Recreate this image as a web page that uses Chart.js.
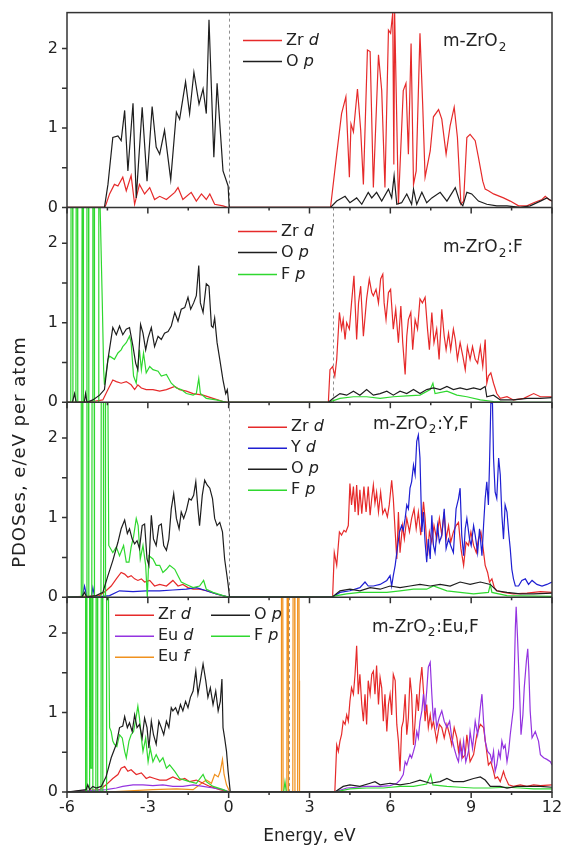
<!DOCTYPE html>
<html>
<head>
<meta charset="utf-8">
<title>PDOS of m-ZrO2 based systems</title>
<script src="https://cdn.jsdelivr.net/npm/chart.js@4.4.0/dist/chart.umd.min.js"></script>
<style>
  html, body { margin: 0; padding: 0; background: #fff; }
</style>
</head>
<body>
<canvas id="pdos" width="563" height="852"></canvas>
<script>
// energy (eV), PDOS (e/eV per atom) pairs
// panel 1: m-ZrO2
const p1Zrd = [[-6,0],[-4.6,0],[-4.55,0.04],[-4.42,0.17],[-4.24,0.29],[-4.11,0.27],[-3.93,0.38],[-3.80,0.21],[-3.62,0.40],[-3.49,0.04],[-3.31,0.29],[-3.12,0.17],[-2.93,0.25],[-2.75,0.10],[-2.56,0.14],[-2.31,0.10],[-2.00,0.19],[-1.88,0.25],[-1.70,0.10],[-1.39,0.19],[-1.20,0.08],[-1.01,0.17],[-0.83,0.10],[-0.70,0.17],[-0.52,0.04],[-0.21,0.02],[-0.02,0],
  [3.78,0],[4.01,0.67],[4.19,1.18],[4.35,1.39],[4.48,0.38],[4.54,1.05],[4.63,0.95],[4.78,1.49],[4.90,0.97],[5.00,0.29],[5.15,1.98],[5.25,1.96],[5.37,0.25],[5.56,1.92],[5.68,1.47],[5.80,0.25],[5.93,2.23],[6.01,2.19],[6.09,2.45],[6.13,0.54],[6.16,2.45],[6.30,0.04],[6.48,1.47],[6.58,1.56],[6.67,0.67],[6.77,2.06],[6.86,0.29],[6.96,0.46],[7.10,2.19],[7.20,1.30],[7.29,0.38],[7.48,0.71],[7.60,1.14],[7.79,1.23],[7.91,1.11],[8.07,0.67],[8.22,1.03],[8.37,1.26],[8.49,0.88],[8.62,0.04],[8.72,0.08],[8.84,0.88],[8.96,0.92],[9.15,0.84],[9.27,0.63],[9.43,0.33],[9.52,0.23],[9.64,0.21],[9.83,0.17],[10.20,0.12],[10.45,0.08],[10.76,0.02],[11.07,0.02],[11.32,0.06],[11.63,0.10],[11.75,0.14],[11.88,0.10],[12,0.08]];
const p1Op = [[-6,0],[-4.61,0],[-4.48,0.29],[-4.30,0.88],[-4.11,0.90],[-3.99,0.84],[-3.86,1.22],[-3.74,0.46],[-3.55,1.31],[-3.43,0.12],[-3.21,1.26],[-3.03,0.33],[-2.84,1.27],[-2.69,0.76],[-2.56,0.67],[-2.38,0.97],[-2.15,0.35],[-1.94,1.20],[-1.82,1.11],[-1.60,1.58],[-1.45,1.18],[-1.29,1.70],[-1.10,1.30],[-0.95,1.49],[-0.83,1.18],[-0.73,2.36],[-0.55,0.63],[-0.43,1.56],[-0.21,0.46],[-0.02,0.27],[0.02,0],
  [3.78,0],[4.01,0.08],[4.32,0.14],[4.50,0.06],[4.75,0.12],[4.94,0.04],[5.18,0.19],[5.31,0.12],[5.49,0.19],[5.68,0.08],[5.93,0.23],[6.05,0.12],[6.14,0.40],[6.24,0.04],[6.42,0.06],[6.61,0.17],[6.79,0.04],[6.86,0.23],[6.98,0.04],[7.17,0.19],[7.35,0.06],[7.54,0.12],[7.85,0.19],[8.10,0.08],[8.41,0.25],[8.59,0.06],[8.69,0.02],[8.84,0.19],[9.02,0.17],[9.27,0.08],[9.58,0.04],[9.95,0.02],[10.33,0.02],[10.82,0],[11.19,0.02],[11.57,0.08],[11.81,0.12],[12,0.08]];

// panel 2: m-ZrO2:F
const p2Zrd = [[-6,0],[-5.04,0.01],[-4.67,0.03],[-4.48,0.16],[-4.30,0.28],[-4.17,0.26],[-3.99,0.24],[-3.80,0.26],[-3.62,0.22],[-3.49,0.16],[-3.37,0.22],[-3.24,0.18],[-3.06,0.16],[-2.81,0.16],[-2.56,0.14],[-2.31,0.16],[-2.00,0.20],[-1.82,0.16],[-1.57,0.14],[-1.32,0.11],[-0.95,0.09],[-0.58,0.05],[-0.21,0.01],[-0.02,0],
  [3.70,0],[3.76,0.41],[3.86,0.45],[3.94,0.33],[4.01,0.54],[4.11,1.13],[4.19,0.92],[4.25,1.04],[4.32,0.79],[4.38,1.00],[4.48,0.92],[4.56,1.25],[4.65,1.59],[4.75,0.79],[4.82,1.25],[4.90,1.46],[5.00,0.83],[5.12,1.30],[5.22,1.55],[5.31,1.38],[5.37,1.34],[5.47,1.42],[5.56,1.25],[5.64,1.55],[5.72,1.61],[5.77,1.25],[5.84,1.04],[5.93,1.38],[6.01,1.42],[6.11,0.92],[6.20,1.17],[6.30,0.75],[6.39,1.21],[6.46,0.75],[6.55,0.35],[6.61,0.83],[6.67,1.04],[6.76,1.13],[6.83,0.66],[6.92,1.04],[7.01,0.92],[7.10,1.30],[7.19,1.25],[7.29,1.32],[7.38,0.92],[7.45,0.66],[7.54,1.13],[7.62,0.75],[7.72,0.92],[7.81,0.54],[7.91,1.17],[8.00,0.83],[8.07,0.66],[8.16,0.87],[8.24,0.66],[8.34,0.92],[8.41,0.79],[8.49,0.54],[8.59,0.75],[8.69,0.58],[8.78,0.41],[8.86,0.70],[8.96,0.54],[9.05,0.70],[9.15,0.54],[9.24,0.49],[9.34,0.70],[9.43,0.45],[9.52,0.79],[9.58,0.24],[9.64,0.33],[9.73,0.37],[9.83,0.24],[9.95,0.11],[10.08,0.05],[10.33,0.07],[10.57,0.03],[10.95,0.05],[11.32,0.11],[11.57,0.07],[12,0.07]];
const p2Op = [[-6,0],[-5.80,0],[-5.72,0.11],[-5.66,0],[-5.36,0],[-5.31,0.11],[-5.26,0],[-5.04,0.03],[-4.79,0.09],[-4.61,0.16],[-4.48,0.54],[-4.30,0.94],[-4.17,0.85],[-4.05,0.96],[-3.93,0.85],[-3.80,0.92],[-3.68,0.94],[-3.55,0.70],[-3.45,0.49],[-3.37,0.41],[-3.27,0.98],[-3.18,0.87],[-3.08,0.66],[-2.99,0.81],[-2.87,0.94],[-2.75,0.70],[-2.62,0.83],[-2.50,0.79],[-2.38,0.87],[-2.25,0.89],[-2.13,0.96],[-2.00,1.13],[-1.88,1.02],[-1.76,1.17],[-1.63,1.19],[-1.51,1.32],[-1.41,1.17],[-1.30,1.25],[-1.20,1.34],[-1.11,1.72],[-1.05,1.25],[-0.95,1.13],[-0.83,1.49],[-0.73,1.46],[-0.64,0.96],[-0.58,0.94],[-0.52,1.06],[-0.43,0.75],[-0.33,0.54],[-0.21,0.28],[-0.11,0.11],[-0.05,0.16],[0,0],
  [3.70,0],[3.88,0.05],[4.13,0.11],[4.38,0.09],[4.63,0.14],[4.87,0.09],[5.12,0.16],[5.37,0.09],[5.62,0.11],[5.87,0.14],[6.11,0.09],[6.36,0.14],[6.61,0.11],[6.86,0.16],[7.10,0.11],[7.35,0.16],[7.60,0.18],[7.85,0.16],[8.10,0.20],[8.34,0.16],[8.59,0.18],[8.84,0.16],[9.09,0.18],[9.34,0.16],[9.52,0.20],[9.58,0.07],[9.83,0.09],[10.08,0.03],[10.57,0.03],[11.07,0.05],[11.57,0.05],[12,0.06]];
const p2Fp = [[-6,0],[-5.86,0],[-5.85,2.45],[-5.79,2.45],[-5.78,0],[-5.67,0],[-5.66,2.45],[-5.61,2.45],[-5.60,0],[-5.45,0],[-5.44,2.45],[-5.40,2.45],[-5.39,0],[-5.27,0],[-5.26,2.45],[-5.20,2.45],[-5.19,0],[-5.05,0],[-5.04,2.45],[-4.99,2.45],[-4.98,0],[-4.83,0],[-4.82,2.45],[-4.77,2.45],[-4.69,1.25],[-4.64,0.41],[-4.61,0.22],[-4.48,0.54],[-4.42,0.58],[-4.24,0.54],[-4.11,0.62],[-3.99,0.66],[-3.93,0.70],[-3.80,0.75],[-3.68,0.83],[-3.62,0.75],[-3.53,0.33],[-3.43,0.24],[-3.31,0.66],[-3.24,0.41],[-3.16,0.62],[-3.06,0.37],[-2.93,0.45],[-2.81,0.41],[-2.62,0.39],[-2.50,0.33],[-2.31,0.35],[-2.13,0.24],[-1.94,0.18],[-1.76,0.16],[-1.57,0.11],[-1.32,0.09],[-1.20,0.11],[-1.11,0.30],[-1.05,0.11],[-0.83,0.05],[-0.46,0.03],[-0.08,0],
  [3.70,0],[4.13,0.05],[4.63,0.07],[5.12,0.07],[5.62,0.05],[6.11,0.07],[6.61,0.08],[7.10,0.09],[7.48,0.16],[7.58,0.24],[7.66,0.11],[8.10,0.14],[8.47,0.09],[8.84,0.07],[9.34,0.03],[9.83,0.01],[10.33,0],[12,0]];

// panel 3: m-ZrO2:Y,F
const p3Zrd = [[-6,0],[-4.79,0.02],[-4.55,0.08],[-4.36,0.14],[-4.17,0.23],[-3.99,0.31],[-3.86,0.29],[-3.74,0.25],[-3.62,0.27],[-3.49,0.23],[-3.37,0.21],[-3.24,0.23],[-3.12,0.19],[-2.93,0.21],[-2.75,0.14],[-2.56,0.16],[-2.31,0.14],[-2.07,0.21],[-1.88,0.14],[-1.70,0.16],[-1.51,0.12],[-1.32,0.10],[-1.08,0.10],[-0.83,0.08],[-0.46,0.04],[-0.02,0],
  [3.84,0],[3.86,0.02],[3.92,0.56],[4.01,0.40],[4.11,0.82],[4.19,0.78],[4.28,0.84],[4.35,0.82],[4.44,0.90],[4.50,1.43],[4.56,1.16],[4.63,1.39],[4.69,1.07],[4.75,1.41],[4.81,1.03],[4.87,1.35],[4.94,1.05],[5.02,1.39],[5.10,1.07],[5.18,1.39],[5.25,1.03],[5.31,1.24],[5.37,1.41],[5.43,1.18],[5.49,1.32],[5.56,1.07],[5.64,1.32],[5.72,1.05],[5.80,1.11],[5.89,1.01],[5.96,1.16],[6.05,1.47],[6.11,1.24],[6.18,0.82],[6.24,0.48],[6.30,1.07],[6.36,0.56],[6.45,0.90],[6.52,0.73],[6.61,0.99],[6.71,0.82],[6.79,0.99],[6.88,1.11],[6.96,0.86],[7.04,1.07],[7.13,0.78],[7.23,1.20],[7.29,0.99],[7.38,0.52],[7.45,0.82],[7.54,0.69],[7.62,0.90],[7.72,0.73],[7.82,0.99],[7.91,0.78],[8.00,1.07],[8.07,0.73],[8.16,0.90],[8.24,0.69],[8.34,0.82],[8.44,0.90],[8.53,0.94],[8.62,0.61],[8.72,0.40],[8.81,0.69],[8.90,0.65],[8.99,0.82],[9.09,0.65],[9.19,0.56],[9.27,0.73],[9.36,0.82],[9.43,0.65],[9.52,0.40],[9.61,0.31],[9.68,0.19],[9.77,0.23],[9.86,0.12],[9.95,0.08],[10.20,0.06],[10.57,0.04],[11.07,0.05],[11.57,0.07],[12,0.06]];
const p3Yd = [[-6,0],[-5.44,0],[-5.35,0.14],[-5.26,0],[-5.10,0],[-5.04,0.12],[-4.97,0],[-4.42,0.02],[-4.05,0.08],[-3.55,0.07],[-3.06,0.08],[-2.56,0.08],[-2.07,0.09],[-1.57,0.10],[-1.20,0.12],[-0.83,0.08],[-0.46,0.04],[0,0],
  [3.84,0],[4.13,0.06],[4.50,0.08],[4.87,0.12],[5.06,0.19],[5.18,0.14],[5.37,0.14],[5.62,0.16],[5.87,0.21],[5.99,0.27],[6.05,0.14],[6.11,0.27],[6.18,0.40],[6.24,0.56],[6.34,0.82],[6.42,0.90],[6.48,0.84],[6.55,0.99],[6.61,1.16],[6.67,1.11],[6.73,1.37],[6.79,1.45],[6.86,1.66],[6.92,1.54],[6.98,1.96],[7.04,2.04],[7.10,1.75],[7.17,0.82],[7.23,1.07],[7.29,0.69],[7.35,0.44],[7.41,0.73],[7.48,0.48],[7.54,1.03],[7.60,0.65],[7.66,0.56],[7.75,0.90],[7.82,0.69],[7.91,0.78],[8.00,1.11],[8.07,0.61],[8.16,0.73],[8.24,0.65],[8.34,0.56],[8.44,1.11],[8.53,1.24],[8.59,1.37],[8.65,0.78],[8.72,0.52],[8.78,0.86],[8.84,0.99],[8.94,0.73],[9.00,0.65],[9.09,0.90],[9.15,0.78],[9.24,0.56],[9.31,0.86],[9.40,0.52],[9.46,0.90],[9.52,1.24],[9.58,1.45],[9.64,1.16],[9.68,1.66],[9.73,2.44],[9.79,2.45],[9.83,1.75],[9.89,1.32],[9.95,1.24],[10.02,1.75],[10.08,1.54],[10.14,1.03],[10.20,0.73],[10.26,1.16],[10.33,1.07],[10.39,0.82],[10.45,0.61],[10.51,0.35],[10.57,0.23],[10.64,0.14],[10.76,0.14],[10.88,0.21],[11.01,0.23],[11.13,0.16],[11.26,0.21],[11.44,0.16],[11.63,0.14],[11.81,0.16],[12,0.19]];
const p3Op = [[-6,0],[-5.45,0],[-5.35,0.06],[-5.27,0],[-4.92,0.02],[-4.67,0.06],[-4.48,0.27],[-4.30,0.46],[-4.11,0.69],[-3.99,0.86],[-3.86,0.97],[-3.76,0.80],[-3.68,0.86],[-3.58,0.73],[-3.49,0.67],[-3.40,0.71],[-3.31,0.61],[-3.21,0.90],[-3.12,0.92],[-3.03,0.48],[-2.96,0.40],[-2.87,1.03],[-2.79,0.73],[-2.69,0.65],[-2.59,0.90],[-2.50,0.92],[-2.41,0.65],[-2.31,0.59],[-2.22,0.73],[-2.13,1.11],[-2.04,1.30],[-1.94,0.99],[-1.84,0.86],[-1.76,1.07],[-1.67,0.99],[-1.57,1.09],[-1.47,1.24],[-1.39,1.22],[-1.30,1.28],[-1.22,1.45],[-1.14,1.11],[-1.08,0.90],[-0.98,1.28],[-0.89,1.47],[-0.80,1.41],[-0.70,1.37],[-0.60,1.24],[-0.52,0.99],[-0.43,0.90],[-0.33,0.94],[-0.23,0.82],[-0.15,0.48],[-0.08,0.31],[-0.02,0.16],[0.03,0],
  [3.84,0],[4.13,0.08],[4.50,0.10],[4.87,0.08],[5.25,0.12],[5.62,0.10],[5.99,0.14],[6.36,0.12],[6.73,0.14],[7.10,0.16],[7.48,0.14],[7.85,0.16],[8.22,0.14],[8.59,0.19],[8.96,0.16],[9.34,0.19],[9.71,0.16],[9.95,0.08],[10.33,0.06],[10.82,0.04],[11.32,0.04],[12,0.05]];
const p3Fp = [[-6,0],[-5.48,0],[-5.47,2.45],[-5.42,2.45],[-5.41,0],[-5.27,0],[-5.26,2.45],[-5.20,2.45],[-5.19,0],[-5.08,0],[-5.07,2.45],[-4.99,2.45],[-4.98,0],[-4.74,0],[-4.73,2.45],[-4.65,2.45],[-4.64,0],[-4.58,0],[-4.57,2.45],[-4.48,2.45],[-4.45,0.65],[-4.30,0.56],[-4.17,0.63],[-4.05,0.52],[-3.90,0.65],[-3.80,0.44],[-3.70,0.44],[-3.62,0.63],[-3.53,0.76],[-3.43,0.99],[-3.36,0.90],[-3.28,0.48],[-3.18,0.65],[-3.08,0.40],[-3.02,0],[-2.96,0.52],[-2.81,0.48],[-2.69,0.40],[-2.56,0.40],[-2.44,0.31],[-2.31,0.35],[-2.19,0.40],[-2.00,0.35],[-1.88,0.27],[-1.76,0.19],[-1.57,0.16],[-1.32,0.12],[-1.08,0.14],[-0.93,0.21],[-0.83,0.10],[-0.58,0.06],[-0.21,0.02],[0,0],
  [3.84,0],[3.86,0.01],[4.38,0.04],[4.87,0.06],[5.37,0.06],[5.87,0.06],[6.36,0.08],[6.86,0.10],[7.35,0.10],[7.60,0.14],[8.10,0.08],[8.59,0.06],[9.09,0.04],[9.64,0.06],[9.71,0.16],[9.77,0.06],[10.33,0.02],[12,0.01]];

// panel 4: m-ZrO2:Eu,F
const p4Zrd = [[-6,0],[-4.79,0.03],[-4.55,0.09],[-4.30,0.17],[-4.11,0.22],[-3.99,0.30],[-3.86,0.32],[-3.74,0.26],[-3.62,0.28],[-3.43,0.22],[-3.24,0.24],[-3.06,0.17],[-2.93,0.19],[-2.75,0.17],[-2.56,0.15],[-2.31,0.15],[-2.07,0.19],[-1.82,0.15],[-1.63,0.17],[-1.45,0.13],[-1.20,0.15],[-0.95,0.11],[-0.70,0.07],[-0.33,0.03],[0.04,0],
  [3.94,0],[4.01,0.59],[4.07,0.51],[4.13,0.64],[4.19,0.72],[4.25,0.89],[4.32,0.85],[4.38,0.97],[4.44,0.89],[4.50,1.14],[4.56,1.31],[4.63,1.23],[4.69,1.48],[4.75,1.84],[4.81,1.23],[4.87,1.48],[4.94,1.10],[5.00,0.89],[5.06,1.23],[5.12,0.85],[5.18,1.40],[5.25,1.23],[5.31,1.48],[5.37,1.52],[5.43,1.23],[5.49,1.59],[5.56,1.10],[5.62,1.44],[5.68,1.31],[5.74,0.89],[5.80,1.23],[5.87,0.76],[5.93,1.10],[5.99,1.23],[6.05,0.97],[6.11,1.48],[6.18,1.40],[6.24,0.85],[6.30,0.64],[6.36,0.26],[6.42,0.81],[6.48,0.89],[6.55,1.23],[6.61,0.72],[6.67,0.93],[6.73,1.44],[6.79,1.23],[6.86,0.59],[6.92,0.89],[6.98,1.23],[7.04,1.02],[7.10,1.35],[7.17,1.57],[7.23,1.27],[7.29,0.89],[7.35,1.10],[7.41,0.81],[7.48,0.97],[7.54,0.81],[7.60,0.89],[7.72,0.64],[7.82,0.85],[7.91,0.81],[8.00,0.68],[8.10,0.85],[8.20,0.72],[8.28,0.59],[8.37,0.81],[8.47,0.68],[8.53,0.51],[8.59,0.64],[8.69,0.43],[8.78,0.47],[8.84,0.72],[8.96,0.38],[9.09,0.47],[9.21,0.72],[9.34,0.85],[9.46,0.81],[9.56,0.55],[9.64,0.34],[9.73,0.38],[9.83,0.26],[9.89,0.17],[9.98,0.19],[10.08,0.13],[10.20,0.26],[10.26,0.19],[10.39,0.09],[10.57,0.07],[10.82,0.09],[11.07,0.07],[11.32,0.09],[11.57,0.08],[12,0.09]];
const p4Eud = [[-6,0],[-4.55,0.03],[-4.17,0.05],[-3.93,0.07],[-3.55,0.09],[-3.18,0.09],[-2.81,0.08],[-2.44,0.09],[-2.07,0.07],[-1.70,0.07],[-1.32,0.09],[-0.95,0.07],[-0.58,0.05],[-0.21,0.03],[0.04,0],
  [3.94,0],[4.38,0.05],[4.75,0.06],[5.12,0.07],[5.62,0.07],[5.99,0.08],[6.24,0.11],[6.36,0.15],[6.48,0.22],[6.55,0.38],[6.61,0.34],[6.67,0.41],[6.73,0.47],[6.79,0.43],[6.86,0.51],[6.92,0.59],[6.98,0.76],[7.04,0.68],[7.10,0.89],[7.17,1.02],[7.23,1.23],[7.29,1.02],[7.35,1.27],[7.41,1.57],[7.48,1.63],[7.54,1.23],[7.60,0.89],[7.66,1.06],[7.72,0.81],[7.81,0.93],[7.91,1.02],[8.00,0.89],[8.10,0.81],[8.20,0.89],[8.28,0.68],[8.37,0.55],[8.47,0.43],[8.53,0.38],[8.59,0.59],[8.65,0.43],[8.72,0.64],[8.80,0.38],[8.90,0.51],[8.96,0.76],[9.05,0.55],[9.15,0.89],[9.24,0.72],[9.34,1.06],[9.40,1.23],[9.46,0.89],[9.52,0.64],[9.61,0.51],[9.71,0.47],[9.77,0.38],[9.83,0.51],[9.89,0.26],[9.95,0.34],[10.02,0.51],[10.08,0.43],[10.14,0.64],[10.20,0.55],[10.26,0.59],[10.33,0.38],[10.39,0.51],[10.45,0.72],[10.51,0.89],[10.57,1.06],[10.64,2.07],[10.67,2.33],[10.72,1.95],[10.80,1.23],[10.85,0.72],[10.92,0.97],[10.97,1.31],[11.05,1.65],[11.10,1.80],[11.14,1.52],[11.19,1.02],[11.26,0.68],[11.32,0.72],[11.38,0.76],[11.44,0.70],[11.50,0.64],[11.57,0.47],[11.69,0.43],[11.81,0.41],[11.94,0.38],[12,0.34]];
const p4Euf = [[-6,0],[-4.55,0],[-2.81,0.03],[-1.94,0.04],[-1.32,0.03],[-1.08,0.09],[-0.83,0.15],[-0.64,0.11],[-0.52,0.22],[-0.39,0.19],[-0.31,0.26],[-0.23,0.41],[-0.17,0.22],[-0.08,0.09],[0.04,0],
  [1.95,0],[1.96,2.45],[2.01,2.45],[2.02,0],[2.16,0],[2.17,2.45],[2.21,2.45],[2.22,0],[2.38,0],[2.39,2.45],[2.45,2.45],[2.46,0],[2.55,0],[2.56,2.45],[2.61,2.45],[2.62,1.4],[2.63,0],[12,0]];
const p4Op = [[-6,0],[-5.29,0.03],[-5.23,0.09],[-5.16,0.03],[-5.04,0.07],[-4.92,0.05],[-4.73,0.07],[-4.55,0.19],[-4.36,0.43],[-4.17,0.60],[-4.05,0.81],[-3.93,0.83],[-3.86,0.95],[-3.76,0.81],[-3.68,0.87],[-3.58,0.76],[-3.49,0.97],[-3.40,0.81],[-3.31,0.85],[-3.21,0.68],[-3.12,0.93],[-3.03,0.81],[-2.96,0.55],[-2.87,0.89],[-2.79,0.72],[-2.69,0.60],[-2.59,0.89],[-2.50,0.81],[-2.41,0.72],[-2.31,0.89],[-2.22,0.81],[-2.13,1.06],[-2.07,1.02],[-1.97,1.06],[-1.88,0.98],[-1.79,1.10],[-1.70,1.02],[-1.60,1.14],[-1.51,1.06],[-1.42,1.19],[-1.32,1.27],[-1.22,1.52],[-1.14,1.23],[-1.05,1.40],[-0.95,1.61],[-0.85,1.40],[-0.77,1.19],[-0.68,1.31],[-0.58,1.10],[-0.48,1.27],[-0.39,1.02],[-0.31,1.14],[-0.25,1.42],[-0.21,0.81],[-0.15,0.68],[-0.08,0.51],[-0.02,0.26],[0.06,0],
  [3.94,0],[4.25,0.07],[4.50,0.09],[4.87,0.07],[5.25,0.11],[5.43,0.13],[5.62,0.09],[5.99,0.11],[6.36,0.09],[6.73,0.11],[7.10,0.15],[7.48,0.11],[7.85,0.13],[8.10,0.17],[8.34,0.13],[8.72,0.13],[9.09,0.17],[9.34,0.19],[9.52,0.15],[9.71,0.07],[10.08,0.07],[10.33,0.05],[10.70,0.07],[11.07,0.07],[11.57,0.07],[12,0.06]];
const p4Fp = [[-6,0],[-5.32,0],[-5.31,2.45],[-5.27,2.45],[-5.26,0],[-5.17,0],[-5.16,2.45],[-5.14,2.45],[-5.13,0.30],[-5.09,0.30],[-5.08,2.45],[-5.05,2.45],[-5.04,0],[-4.93,0],[-4.92,2.45],[-4.87,2.45],[-4.86,0],[-4.74,0],[-4.73,2.45],[-4.68,2.45],[-4.67,0],[-4.54,0],[-4.53,2.45],[-4.46,2.45],[-4.42,0.81],[-4.36,0.76],[-4.30,0.64],[-4.24,0.60],[-4.15,0.57],[-4.05,0.72],[-3.95,0.68],[-3.86,0.51],[-3.80,0.43],[-3.70,0.64],[-3.62,0.72],[-3.53,0.76],[-3.45,0.91],[-3.37,1.08],[-3.31,0.93],[-3.24,0.68],[-3.18,0.51],[-3.08,0.68],[-2.99,0.38],[-2.91,0.55],[-2.81,0.38],[-2.69,0.47],[-2.56,0.38],[-2.44,0.43],[-2.31,0.30],[-2.19,0.34],[-2.00,0.26],[-1.82,0.17],[-1.63,0.15],[-1.45,0.13],[-1.20,0.11],[-0.95,0.22],[-0.83,0.13],[-0.58,0.07],[-0.21,0.03],[0,0],
  [2.04,0],[2.09,0.13],[2.14,0],[3.94,0],[4.50,0.04],[5.12,0.05],[5.74,0.05],[6.36,0.07],[6.86,0.07],[7.35,0.10],[7.50,0.22],[7.58,0.09],[8.10,0.07],[8.59,0.06],[9.09,0.05],[9.71,0.05],[10.33,0.06],[10.82,0.05],[11.32,0.04],[12,0.04]];

// axis settings
const energyRange = [-6, 12];
const pdosMax = 2.45;
const xTickStep = 1.5;
const yTickStep = 0.5;
const dashAt = [0, 3.86, 0, 2.25];   // grey dashed marker per panel (eV)

const FONT = '"DejaVu Sans", "Liberation Sans", sans-serif';
const col = {
  zr: '#e62a2a', y: '#1f1fd2', eud: '#9433e0', euf: '#f0911e', o: '#1e1e1e', f: '#2fd82f'
};

// curves listed top-most first; legend rows in reading order
const panels = [
  {
    title: ['m-ZrO', '2', ''], titleAt: [443, 29],
    curves: [{d: p1Op, c: col.o}, {d: p1Zrd, c: col.zr}],
    legend: [{x: 243, dy: 28, c: col.zr, t: ['Zr', 'd']}, {x: 243, dy: 49, c: col.o, t: ['O', 'p']}]
  },
  {
    title: ['m-ZrO', '2', ':F'], titleAt: [443, 40],
    curves: [{d: p2Op, c: col.o}, {d: p2Fp, c: col.f}, {d: p2Zrd, c: col.zr}],
    legend: [{x: 238, dy: 24, c: col.zr, t: ['Zr', 'd']}, {x: 238, dy: 45, c: col.o, t: ['O', 'p']},
             {x: 238, dy: 67, c: col.f, t: ['F', 'p']}]
  },
  {
    title: ['m-ZrO', '2', ':Y,F'], titleAt: [373, 22],
    curves: [{d: p3Op, c: col.o}, {d: p3Fp, c: col.f}, {d: p3Yd, c: col.y}, {d: p3Zrd, c: col.zr}],
    legend: [{x: 248, dy: 25, c: col.zr, t: ['Zr', 'd']}, {x: 248, dy: 46, c: col.y, t: ['Y', 'd']},
             {x: 248, dy: 67, c: col.o, t: ['O', 'p']}, {x: 248, dy: 88, c: col.f, t: ['F', 'p']}]
  },
  {
    title: ['m-ZrO', '2', ':Eu,F'], titleAt: [372, 30],
    curves: [{d: p4Op, c: col.o}, {d: p4Fp, c: col.f}, {d: p4Eud, c: col.eud}, {d: p4Zrd, c: col.zr}, {d: p4Euf, c: col.euf}],
    legend: [{x: 115, dy: 18, c: col.zr, t: ['Zr', 'd']}, {x: 115, dy: 39, c: col.eud, t: ['Eu', 'd']},
             {x: 115, dy: 60, c: col.euf, t: ['Eu', 'f']}, {x: 211, dy: 18, c: col.o, t: ['O', 'p']},
             {x: 211, dy: 39, c: col.f, t: ['F', 'p']}]
  }
];

const datasets = [];
panels.forEach((p, i) => {
  p.curves.forEach(cv => {
    datasets.push({
      data: cv.d.map(([x, y]) => ({x, y})),
      yAxisID: 'y' + (i + 1),
      borderColor: cv.c,
      borderWidth: 1.2,
      pointRadius: 0,
      tension: 0,
      fill: false
    });
  });
});

const scales = {
  x: {
    type: 'linear', min: energyRange[0], max: energyRange[1],
    grid: {display: false, tickLength: 6},
    border: {display: false},
    ticks: {
      stepSize: xTickStep, autoSkip: false, maxRotation: 0, padding: 0, color: '#222',
      font: {family: FONT, size: 16},
      callback: v => (v % 3 === 0 ? String(v) : '')
    },
    title: {display: true, text: 'Energy, eV', color: '#222', font: {family: FONT, size: 17}, padding: {top: 0, bottom: 5}},
    afterFit: s => { s.height = 60; }
  }
};
// stacked left axes are laid out bottom-up, so add the lowest panel first
for (let i = panels.length - 1; i >= 0; i--) {
  scales['y' + (i + 1)] = {
    type: 'linear', position: 'left', stack: 'pdos', stackWeight: 1,
    min: 0, max: pdosMax,
    grid: {display: false, tickLength: 6},
    border: {display: false},
    ticks: {
      stepSize: yTickStep, includeBounds: false, padding: 3, color: '#222',
      font: {family: FONT, size: 16},
      callback: v => (Number.isInteger(v) ? String(v) : '')
    },
    afterFit: s => { s.width = 67; }
  };
}

function legendRow(ctx, x, y, color, parts) {
  ctx.strokeStyle = color;
  ctx.lineWidth = 1.5;
  ctx.beginPath();
  ctx.moveTo(x, y);
  ctx.lineTo(x + 39, y);
  ctx.stroke();
  ctx.fillStyle = '#222';
  ctx.textAlign = 'left';
  ctx.textBaseline = 'middle';
  ctx.font = '16px ' + FONT;
  const tx = x + 43;
  ctx.fillText(parts[0] + ' ', tx, y);
  const w = ctx.measureText(parts[0] + ' ').width;
  ctx.font = 'italic 16px ' + FONT;
  ctx.fillText(parts[1], tx + w, y);
}

function panelTitle(ctx, x, y, parts) {
  ctx.fillStyle = '#222';
  ctx.textAlign = 'left';
  ctx.textBaseline = 'middle';
  ctx.font = '17px ' + FONT;
  ctx.fillText(parts[0], x, y);
  let w = ctx.measureText(parts[0]).width;
  ctx.font = '12px ' + FONT;
  ctx.fillText(parts[1], x + w + 1, y + 6);
  w += ctx.measureText(parts[1]).width + 2;
  ctx.font = '17px ' + FONT;
  ctx.fillText(parts[2], x + w, y);
}

const decor = {
  id: 'decor',
  beforeDatasetsDraw(chart) {
    const {ctx, scales: sc} = chart;
    ctx.save();
    ctx.strokeStyle = '#8f8f8f';
    ctx.lineWidth = 1;
    ctx.setLineDash([3, 3]);
    panels.forEach((p, i) => {
      const ys = sc['y' + (i + 1)];
      const px = Math.round(sc.x.getPixelForValue(dashAt[i])) + 0.5;
      ctx.beginPath();
      ctx.moveTo(px, ys.top);
      ctx.lineTo(px, ys.bottom);
      ctx.stroke();
    });
    ctx.restore();
  },
  afterDatasetsDraw(chart) {
    const {ctx, chartArea: a, scales: sc} = chart;
    ctx.save();
    ctx.strokeStyle = '#333';
    ctx.lineWidth = 1.5;
    ctx.strokeRect(a.left, a.top, a.right - a.left, a.bottom - a.top);
    panels.forEach((p, i) => {
      const ys = sc['y' + (i + 1)];
      ctx.beginPath();
      ctx.moveTo(a.left, ys.bottom);
      ctx.lineTo(a.right, ys.bottom);
      // energy ticks under every panel
      sc.x.ticks.forEach(t => {
        const px = sc.x.getPixelForValue(t.value);
        const len = t.value % 3 === 0 ? 6 : 3;
        ctx.moveTo(px, ys.bottom);
        ctx.lineTo(px, ys.bottom + len);
      });
      // pdos ticks
      ys.ticks.forEach(t => {
        const py = ys.getPixelForValue(t.value);
        ctx.moveTo(a.left - 5, py);
        ctx.lineTo(a.left, py);
      });
      ctx.stroke();
    });
    ctx.restore();
  },
  afterDraw(chart) {
    const {ctx, scales: sc} = chart;
    ctx.save();
    panels.forEach((p, i) => {
      const top = sc['y' + (i + 1)].top;
      p.legend.forEach(l => legendRow(ctx, l.x, top + l.dy, l.c, l.t));
      panelTitle(ctx, p.titleAt[0], top + p.titleAt[1], p.title);
    });
    // shared y title
    ctx.translate(20, 452);
    ctx.rotate(-Math.PI / 2);
    ctx.fillStyle = '#222';
    ctx.textAlign = 'center';
    ctx.textBaseline = 'middle';
    ctx.font = '18px ' + FONT;
    if ('letterSpacing' in ctx) ctx.letterSpacing = '1px';
    ctx.fillText('PDOSes, e/eV per atom', 0, 0);
    ctx.restore();
  }
};

new Chart(document.getElementById('pdos'), {
  type: 'line',
  data: {datasets},
  options: {
    responsive: false,
    animation: false,
    devicePixelRatio: 1,
    layout: {padding: {top: 12, right: 11, left: 0, bottom: 0}},
    plugins: {legend: {display: false}, tooltip: {enabled: false}},
    scales
  },
  plugins: [decor]
});
</script>
</body>
</html>
